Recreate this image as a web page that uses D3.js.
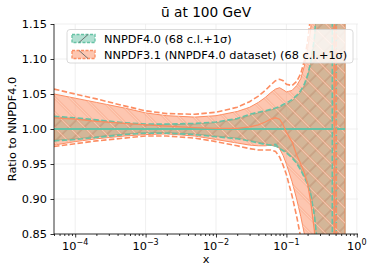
<!DOCTYPE html>
<html><head><meta charset="utf-8">
<script src="https://cdn.jsdelivr.net/npm/d3@7"></script>
<style>
html,body{margin:0;padding:0;background:#fff;}
svg{display:block;font-family:"DejaVu Sans",sans-serif;}
</style></head>
<body><svg id="c" width="374" height="275"></svg>
<script>
// ---- data ----
const xs = [5e-5,1e-4,2e-4,5e-4,1e-3,2e-3,5e-3,1e-2,2e-2,3e-2,4e-2,5e-2,6e-2,7e-2,8e-2,9e-2,0.1,0.12,0.14,0.16,0.18,0.2,0.22,0.25,0.28,0.32,0.36,0.4,0.44,0.46,0.5,0.52,0.56,0.62,0.68];
// NNPDF4.0 (ratio to itself)
const g_cv  = [1,1,1,1,1,1,1,1,1,1,1,1,1,1,1,1,1,1,1,1,1,1,1,1,1,1,1,1,1,1,1,1,1,1,1];
const g_hi  = [1.017,1.015,1.012,1.008,1.006,1.006,1.007,1.009,1.014,1.019,1.023,1.025,1.027,1.029,1.031,1.033,1.035,1.040,1.046,1.053,1.062,1.075,1.092,1.128,1.2,1.4,1.8,2.5,4,4,4,4,4,4,4];
const g_lo  = [0.984,0.986,0.989,0.993,0.995,0.995,0.993,0.990,0.987,0.984,0.981,0.979,0.977,0.975,0.973,0.970,0.967,0.960,0.952,0.943,0.933,0.923,0.910,0.878,0.82,0.6,0.2,-1,-3,-3,-3,-3,-3,-3,-3];
const g_hi1s= [1.018,1.016,1.013,1.009,1.007,1.007,1.008,1.010,1.015,1.021,1.024,1.026,1.028,1.030,1.032,1.035,1.037,1.042,1.048,1.055,1.064,1.077,1.094,1.13,1.2,1.4,1.8,3,10,-10,-3,-2.5,-2,-2,-2];
const g_lo1s= [0.983,0.985,0.988,0.992,0.994,0.994,0.992,0.989,0.986,0.983,0.980,0.978,0.977,0.978,0.972,0.969,0.966,0.959,0.951,0.941,0.931,0.921,0.908,0.876,0.83,0.6,0.2,-1,-3,-6,-20,20,5,3,3];
// NNPDF3.1 (NNPDF4.0 dataset)
const o_cv  = [1.016,1.014,1.011,1.008,1.006,1.004,1.002,1.001,1.001,1.003,1.006,1.010,1.014,1.016,1.014,1.006,0.995,0.982,0.963,0.950,0.938,0.922,0.898,0.855,0.78,0.5,0.0,-1,-3,-6,6,4,3,2.5,2];
const o_hi  = [1.050,1.044,1.038,1.030,1.023,1.019,1.017,1.019,1.025,1.031,1.038,1.045,1.052,1.057,1.059,1.056,1.053,1.055,1.062,1.072,1.090,1.115,1.140,1.20,1.5,2,3,4,4,4,4,4,4,4,4];
const o_lo  = [0.977,0.982,0.986,0.990,0.992,0.993,0.990,0.985,0.980,0.977,0.976,0.976,0.977,0.977,0.972,0.962,0.950,0.925,0.900,0.875,0.850,0.82,0.75,0.6,0.3,-0.5,-1,-2,-3,-3,-3,-3,-3,-3,-3];
const o_hi1s= [1.057,1.050,1.043,1.033,1.026,1.022,1.021,1.024,1.031,1.039,1.047,1.055,1.063,1.069,1.071,1.069,1.064,1.062,1.068,1.079,1.098,1.125,1.160,1.25,1.6,2,3,5,10,10,-10,-5,-3,-3,-3];
const o_lo1s= [0.975,0.979,0.983,0.987,0.990,0.990,0.987,0.982,0.976,0.972,0.970,0.970,0.970,0.968,0.960,0.948,0.935,0.905,0.875,0.845,0.81,0.75,0.65,0.5,0.2,-0.5,-1,-2,-3,-6,-20,20,5,3,3];

const yTicks = [0.85,0.90,0.95,1.00,1.05,1.10,1.15];
const xTicks = [1e-4,1e-3,1e-2,1e-1,1];
const xTickExp = ["−4","−3","−2","−1","0"];
const labels = ["NNPDF4.0 (68 c.l.+1σ)","NNPDF3.1 (NNPDF4.0 dataset) (68 c.l.+1σ)"];
const title = "ū at 100 GeV";
const yLabel = "Ratio to NNPDF4.0";
const xLabel = "x";

const GREEN = "#66c2a5", ORANGE = "#fc8d62";

// ---- layout ----
const L = 54, R = 358, T = 24, B = 234;
const svg = d3.select("#c");
const x = d3.scaleLog().domain([5e-5, 1.04]).range([L, R]);
const y = d3.scaleLinear().domain([0.85, 1.15]).range([B, T]);

const defs = svg.append("defs");
defs.append("clipPath").attr("id","clip").append("rect")
  .attr("x",L).attr("y",T).attr("width",R-L).attr("height",B-T);
function hatch(id, angle, draw){
  const p = defs.append("pattern").attr("id",id).attr("patternUnits","userSpaceOnUse")
    .attr("width",10.6).attr("height",10.6).attr("patternTransform",`rotate(${angle})`);
  draw(p);
}
hatch("hG", 45, p => p.append("line").attr("x1",1).attr("x2",1).attr("y1",0).attr("y2",10.6)
  .attr("stroke","#7a8577").attr("stroke-width",0.8));
hatch("hO", -45, p => {
  p.append("line").attr("x1",1.5).attr("x2",1.5).attr("y1",0).attr("y2",10.6)
   .attr("stroke","#f5875c").attr("stroke-width",1.8);
  p.append("line").attr("x1",1.5).attr("x2",1.5).attr("y1",0).attr("y2",10.6)
   .attr("stroke","#ffe3d6").attr("stroke-width",0.8);
});

// grid
const grid = svg.append("g").attr("stroke","#ebebeb").attr("stroke-width",0.8);
xTicks.forEach(v => grid.append("line").attr("x1",x(v)).attr("x2",x(v)).attr("y1",T).attr("y2",B));
yTicks.forEach(v => grid.append("line").attr("x1",L).attr("x2",R).attr("y1",y(v)).attr("y2",y(v)));

const pts = arr => xs.map((xv,i)=>[xv, arr[i]]);
const band = (lo, hi) => xs.map((xv,i)=>[xv, lo[i], hi[i]]);
const line = d3.line().x(d=>x(d[0])).y(d=>y(d[1]));
const area = d3.area().x(d=>x(d[0])).y0(d=>y(d[1])).y1(d=>y(d[2]));

const plot = svg.append("g").attr("clip-path","url(#clip)");
// fills
plot.append("path").attr("d", area(band(g_lo,g_hi))).attr("fill",GREEN).attr("fill-opacity",0.55)
  .attr("stroke",GREEN).attr("stroke-width",1);
plot.append("path").attr("d", area(band(g_lo,g_hi))).attr("fill","url(#hG)");
plot.append("path").attr("d", area(band(o_lo,o_hi))).attr("fill",ORANGE).attr("fill-opacity",0.5)
  .attr("stroke",ORANGE).attr("stroke-width",1);
plot.append("path").attr("d", area(band(o_lo,o_hi))).attr("fill","url(#hO)").attr("opacity",0.7);
// lines
const drawLine = (arr, col, w, dash) => plot.append("path").attr("d", line(pts(arr)))
  .attr("fill","none").attr("stroke",col).attr("stroke-width",w).attr("stroke-dasharray",dash||null);
drawLine(g_cv, GREEN, 2);
drawLine(g_hi1s, GREEN, 1.6, "5.5,2.4");
drawLine(g_lo1s, GREEN, 1.6, "5.5,2.4");
drawLine(o_cv, ORANGE, 1.3);
drawLine(o_hi1s, ORANGE, 1.6, "5.5,2.4");
drawLine(o_lo1s, ORANGE, 1.6, "5.5,2.4");

// axes
const yAxis = d3.axisLeft(y).tickValues(yTicks).tickFormat(d3.format(".2f")).tickSize(3.5).tickSizeOuter(0).tickPadding(3.5);
const gy = svg.append("g").attr("transform",`translate(${L},0)`).call(yAxis);
gy.select(".domain").remove();
gy.selectAll("line").attr("stroke","#000").attr("stroke-width",0.8);
gy.selectAll("text").attr("font-size",11.3).attr("font-family","DejaVu Sans").attr("fill","#000");

const minors = [];
[-5,-4,-3,-2,-1,0].forEach(e => { for (let k=2;k<=9;k++){ const v=k*Math.pow(10,e); if (v>=5e-5 && v<=1.04) minors.push(v);} });
const gx = svg.append("g").attr("transform",`translate(0,${B})`);
gx.call(d3.axisBottom(x).tickValues(minors).tickFormat("").tickSize(2).tickSizeOuter(0));
gx.select(".domain").remove();
const gx2 = svg.append("g").attr("transform",`translate(0,${B})`);
gx2.call(d3.axisBottom(x).tickValues(xTicks).tickFormat("").tickSize(3.5).tickSizeOuter(0));
gx2.select(".domain").remove();
svg.selectAll(".tick line").attr("stroke","#000").attr("stroke-width",0.8);

xTicks.forEach((v,i) => {
  const t = svg.append("text").attr("x",x(v)).attr("y",250).attr("text-anchor","middle")
    .attr("font-size",11.3).attr("fill","#000");
  t.append("tspan").text("10");
  t.append("tspan").attr("dy",-5).attr("font-size",8).text(xTickExp[i]);
});

// spines
svg.append("line").attr("x1",L).attr("x2",L).attr("y1",T).attr("y2",B).attr("stroke","#000").attr("stroke-width",0.8);
svg.append("line").attr("x1",L).attr("x2",R).attr("y1",B).attr("y2",B).attr("stroke","#000").attr("stroke-width",0.8);

// labels
svg.append("text").attr("x",(L+R)/2).attr("y",17).attr("text-anchor","middle").attr("font-size",13.7).text(title);
svg.append("text").attr("x",(L+R)/2).attr("y",263).attr("text-anchor","middle").attr("font-size",11.3).text(xLabel);
svg.append("text").attr("transform",`translate(16,${(T+B)/2}) rotate(-90)`).attr("text-anchor","middle").attr("font-size",11.3).text(yLabel);

// legend
const lg = svg.append("g");
lg.append("rect").attr("x",67).attr("y",29.5).attr("width",286).attr("height",33.5).attr("rx",3)
  .attr("fill","#fff").attr("fill-opacity",0.8).attr("stroke","#d0d0d0").attr("stroke-width",0.8);
[[GREEN,"hG"],[ORANGE,"hO"]].forEach((c,i) => {
  const yy = 34.5 + i*16;
  lg.append("rect").attr("x",72).attr("y",yy).attr("width",23).attr("height",8)
    .attr("fill",c[0]).attr("fill-opacity",0.5).attr("stroke",c[0]).attr("stroke-width",1.3).attr("stroke-dasharray","3,1.5");
  const h = i===0 ? [[79,42.5],[88,34.5]] : [[79,34.5],[88,42.5]];
  lg.append("line").attr("x1",h[0][0]).attr("y1",h[0][1]+i*16).attr("x2",h[1][0]).attr("y2",h[1][1]+i*16)
    .attr("stroke","#666").attr("stroke-width",0.9);
  lg.append("text").attr("x",104).attr("y",42.5+i*16).attr("font-size",11.3).text(labels[i]);
});
</script></body></html>
